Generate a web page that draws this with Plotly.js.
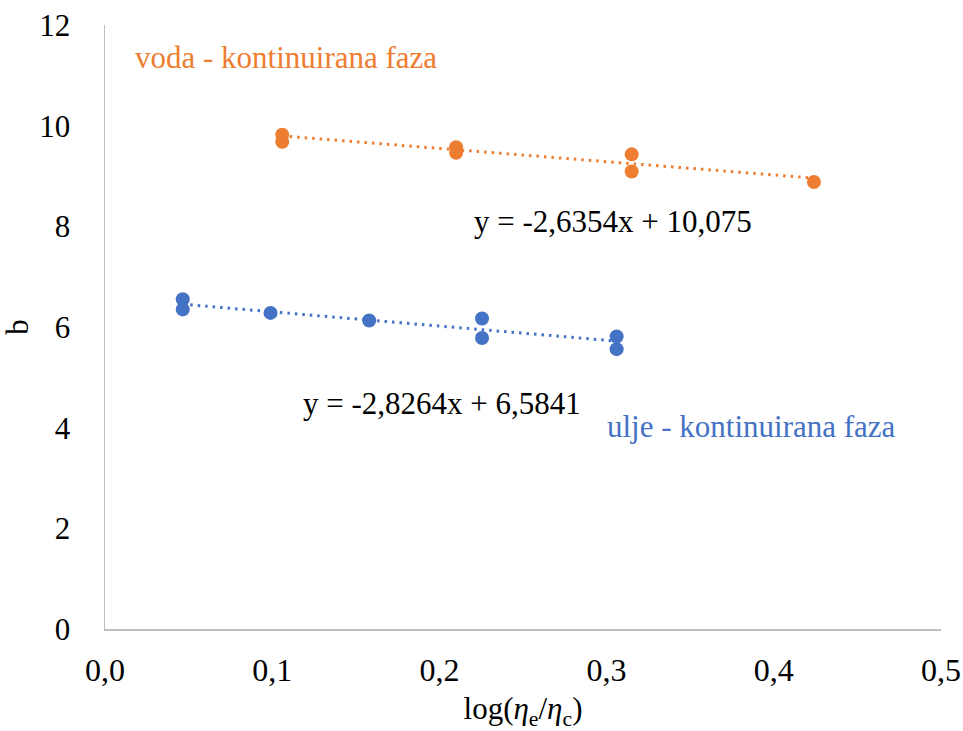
<!DOCTYPE html>
<html>
<head>
<meta charset="utf-8">
<script src="https://cdn.plot.ly/plotly-3.0.1.min.js"></script>
<style>
html,body{margin:0;padding:0;background:#fff;}
#chart{width:963px;height:731px;}
</style>
</head>
<body>
<div id="chart"></div>
<script>
// Data
const vodaX = [0.106, 0.106, 0.210, 0.210, 0.315, 0.315, 0.424];
const vodaY = [9.82, 9.68, 9.57, 9.46, 9.43, 9.09, 8.88];
const uljeX = [0.0465, 0.0465, 0.099, 0.158, 0.2255, 0.2255, 0.306, 0.306];
const uljeY = [6.55, 6.35, 6.28, 6.13, 6.17, 5.78, 5.81, 5.56];

// Trendline coefficients as printed on the chart
const trendSlope = [-2.6354, -2.8264];
const trendIntercept = [10.075, 6.5841];
const trendLabels = ['y = -2,6354x + 10,075', 'y = -2,8264x + 6,5841'];
const seriesLabels = ['voda - kontinuirana faza', 'ulje - kontinuirana faza'];

const orange = '#ED7D31';
const blue = '#4472C4';
const FONT = 'Liberation Serif';

function trend(xs, i) {
  const x0 = Math.min(...xs), x1 = Math.max(...xs);
  return {x: [x0, x1], y: [trendSlope[i]*x0 + trendIntercept[i], trendSlope[i]*x1 + trendIntercept[i]]};
}
const tV = trend(vodaX, 0), tU = trend(uljeX, 1);

const traces = [
  {x: tV.x, y: tV.y, mode: 'lines', line: {color: orange, width: 3, dash: '2.5px,5px'}, hoverinfo: 'skip'},
  {x: tU.x, y: tU.y, mode: 'lines', line: {color: blue, width: 3, dash: '2.5px,5px'}, hoverinfo: 'skip'},
  {x: vodaX, y: vodaY, mode: 'markers', marker: {color: orange, size: 14}},
  {x: uljeX, y: uljeY, mode: 'markers', marker: {color: blue, size: 14}}
];

const layout = {
  width: 963, height: 731,
  margin: {l: 105, r: 22, t: 25, b: 102},
  paper_bgcolor: '#fff', plot_bgcolor: '#fff',
  showlegend: false,
  separators: ', ',
  font: {family: FONT, size: 31, color: '#000'},
  xaxis: {
    range: [0, 0.5], dtick: 0.1, tick0: 0, tickformat: '.1f',
    showgrid: false, zeroline: false,
    showline: true, linecolor: '#bfbfbf', linewidth: 1.5,
    ticks: '', ticklabelstandoff: 12,
    tickfont: {family: FONT, size: 32, color: '#000'},
    title: {text: 'log(<i>η</i><sub>e</sub>/<i>η</i><sub>c</sub>)', font: {family: FONT, size: 31, color: '#000'}, standoff: 12}
  },
  yaxis: {
    range: [0, 12], dtick: 2, tick0: 0,
    showgrid: false, zeroline: false,
    showline: true, linecolor: '#bfbfbf', linewidth: 1.5,
    ticks: '', ticklabelstandoff: 27,
    tickfont: {family: FONT, size: 31, color: '#000'},
    title: {text: 'b', font: {family: FONT, size: 31, color: '#000'}, standoff: 18}
  },
  annotations: [
    {x: 0.0167, y: 11.36, xref: 'x', yref: 'y', xanchor: 'left', yanchor: 'middle', showarrow: false,
     text: seriesLabels[0], font: {family: FONT, size: 31, color: orange}},
    {x: 0.2195, y: 8.09, xref: 'x', yref: 'y', xanchor: 'left', yanchor: 'middle', showarrow: false,
     text: trendLabels[0], font: {family: FONT, size: 31, color: '#000'}},
    {x: 0.1175, y: 4.49, xref: 'x', yref: 'y', xanchor: 'left', yanchor: 'middle', showarrow: false,
     text: trendLabels[1], font: {family: FONT, size: 31, color: '#000'}},
    {x: 0.2990, y: 4.03, xref: 'x', yref: 'y', xanchor: 'left', yanchor: 'middle', showarrow: false,
     text: seriesLabels[1], font: {family: FONT, size: 31, color: blue}}
  ]
};

Plotly.newPlot('chart', traces, layout, {displayModeBar: false, staticPlot: true});
</script>
</body>
</html>
